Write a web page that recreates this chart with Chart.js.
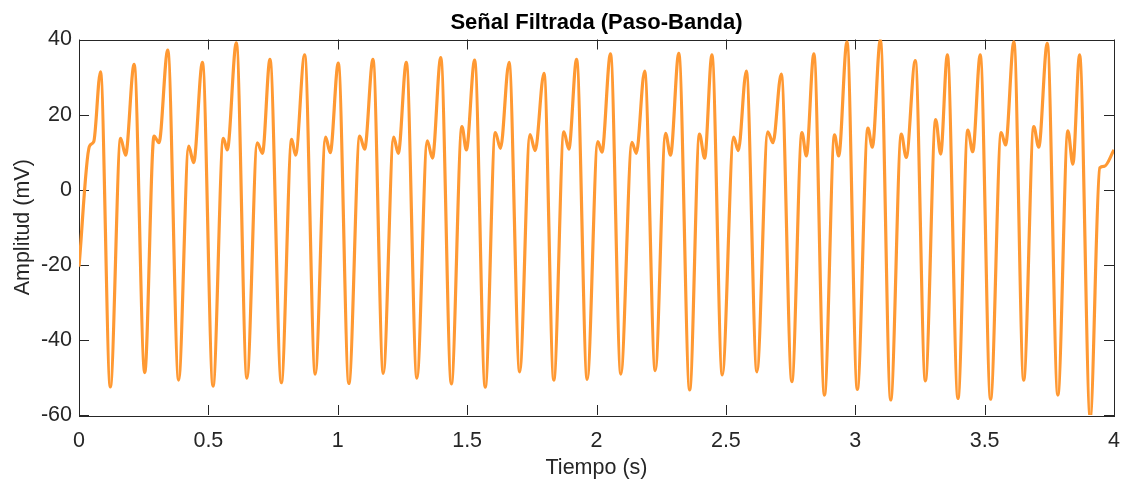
<!DOCTYPE html>
<html>
<head>
<meta charset="utf-8">
<script src="https://cdn.jsdelivr.net/npm/chart.js@4.4.1/dist/chart.umd.min.js"></script>
<style>
  html, body { margin: 0; padding: 0; background: #ffffff; }
  #wrap { width: 1124px; height: 482px; }
</style>
</head>
<body>
<div id="wrap"><canvas id="c" width="1124" height="482"></canvas></div>
<script>
// Band-pass filtered signal, described by its turning points (time in s, amplitude in mV)

// start-up transient
const inicioT = [0.000, 0.040, 0.057];
const inicioV = [-20.5, 11.5, 12.8];

// main peaks of each beat
const picoT = [0.083, 0.213, 0.343, 0.477, 0.608, 0.738, 0.872, 1.002, 1.136, 1.265,
               1.398, 1.529, 1.662, 1.797, 1.923, 2.054, 2.186, 2.318, 2.446, 2.579,
               2.714, 2.840, 2.968, 3.097, 3.232, 3.356, 3.483, 3.613, 3.742, 3.867];
const picoV = [31.4, 33.4, 37.2, 33.9, 39.1, 34.7, 35.9, 33.7, 34.7, 33.9,
               35.2, 34.5, 33.9, 31.0, 34.7, 36.2, 31.6, 36.3, 35.9, 31.6,
               30.8, 36.2, 39.4, 39.9, 34.4, 35.9, 35.9, 39.4, 39.0, 35.9];

// deep troughs after each peak
const valleT = [0.121, 0.254, 0.385, 0.518, 0.649, 0.782, 0.913, 1.043, 1.176, 1.306,
                1.439, 1.570, 1.703, 1.835, 1.964, 2.094, 2.227, 2.360, 2.486, 2.620,
                2.755, 2.881, 3.008, 3.137, 3.271, 3.397, 3.523, 3.651, 3.783, 3.908];
const valleV = [-52.5, -48.7, -50.7, -52.3, -50.2, -51.4, -49.1, -51.6, -48.9, -50.2,
                -51.7, -52.6, -48.5, -50.7, -50.5, -49.1, -48.2, -53.3, -49.3, -48.5,
                -51.1, -54.7, -53.2, -56.0, -50.9, -55.6, -55.8, -50.7, -54.7, -60.5];

// small shoulder peaks on the rising edge
const hombroT = [0.161, 0.290, 0.424, 0.558, 0.689, 0.822, 0.953, 1.085, 1.216, 1.346,
                 1.480, 1.609, 1.743, 1.874, 2.005, 2.137, 2.267, 2.398, 2.530, 2.662,
                 2.794, 2.920, 3.049, 3.178, 3.311, 3.435, 3.564, 3.690, 3.822];
const hombroV = [13.7, 14.3, 11.6, 13.7, 12.5, 13.4, 14.0, 14.3, 14.0, 13.0,
                 16.8, 15.2, 14.7, 15.4, 12.8, 12.6, 15.0, 14.8, 14.0, 15.4,
                 15.2, 14.6, 16.4, 14.8, 18.7, 15.9, 15.2, 16.8, 15.7];

// notches between shoulder and main peak
const muescaT = [0.180, 0.309, 0.443, 0.573, 0.709, 0.837, 0.971, 1.104, 1.234, 1.366,
                 1.497, 1.629, 1.763, 1.893, 2.021, 2.154, 2.286, 2.418, 2.548, 2.682,
                 2.811, 2.936, 3.066, 3.197, 3.330, 3.454, 3.581, 3.709, 3.841];
const muescaV = [9.2, 12.5, 7.2, 10.6, 9.7, 9.2, 9.9, 10.8, 9.7, 8.4,
                 10.6, 11.0, 10.4, 10.8, 10.0, 9.7, 9.2, 8.4, 10.4, 12.5,
                 9.0, 9.0, 11.3, 8.6, 9.5, 10.1, 11.9, 11.3, 6.8];

// tail of the record
const finT = [3.945, 3.962, 4.000];
const finV = [5.8, 6.2, 10.6];

// axis ticks
const xTicks = [0, 0.5, 1, 1.5, 2, 2.5, 3, 3.5, 4];
const yTicks = [-60, -40, -20, 0, 20, 40];

// merge all turning points into one time-ordered series
function pares(ts, vs) { return ts.map((t, i) => ({ x: t, y: vs[i] })); }
const puntos = [].concat(
  pares(inicioT, inicioV), pares(picoT, picoV), pares(valleT, valleV),
  pares(hombroT, hombroV), pares(muescaT, muescaV), pares(finT, finV)
).sort((a, b) => a.x - b.x);

const AXIS = '#262626';
const FONT = '"Liberation Sans", Arial, Helvetica, sans-serif';
const TXT = 21.5;

// box around the plot area with inward tick marks on all four sides
const cajaEjes = {
  id: 'cajaEjes',
  afterLayout(chart) {
    // center the title over the plot area rather than the whole canvas
    const tb = chart.titleBlock;
    if (tb) { tb.left = chart.chartArea.left; tb.right = chart.chartArea.right; }
  },
  beforeDatasetsDraw(chart) {
    const { ctx, chartArea: a, scales: { x, y } } = chart;
    const L = 10;
    ctx.save();
    ctx.strokeStyle = AXIS;
    ctx.lineWidth = 1;
    ctx.beginPath();
    xTicks.forEach(v => {
      const px = Math.round(x.getPixelForValue(v)) + 0.5;
      ctx.moveTo(px, a.bottom); ctx.lineTo(px, a.bottom - L);
      ctx.moveTo(px, a.top); ctx.lineTo(px, a.top + L);
    });
    yTicks.forEach(v => {
      const py = Math.round(y.getPixelForValue(v)) + 0.5;
      ctx.moveTo(a.left, py); ctx.lineTo(a.left + L, py);
      ctx.moveTo(a.right, py); ctx.lineTo(a.right - L, py);
    });
    ctx.stroke();
    ctx.strokeRect(Math.round(a.left) + 0.5, Math.round(a.top) + 0.5,
                   Math.round(a.right - a.left), Math.round(a.bottom - a.top));
    ctx.restore();
  }
};

new Chart(document.getElementById('c'), {
  type: 'line',
  data: {
    datasets: [{
      data: puntos,
      borderColor: '#FF9933',
      borderWidth: 3.2,
      pointRadius: 0,
      cubicInterpolationMode: 'monotone',
      fill: false
    }]
  },
  options: {
    responsive: false,
    animation: false,
    layout: { padding: { left: 0, right: 10, top: 0, bottom: 0 } },
    plugins: {
      legend: { display: false },
      tooltip: { enabled: false },
      title: {
        display: true,
        text: 'Señal Filtrada (Paso-Banda)',
        color: '#000000',
        font: { family: FONT, size: 22, weight: 'bold' },
        padding: { top: 10, bottom: 3.1 }
      }
    },
    scales: {
      x: {
        type: 'linear',
        min: 0, max: 4,
        afterFit(s) { s.height = 67; s.paddingLeft = 0; s.paddingRight = 0; },
        afterBuildTicks(s) { s.ticks = xTicks.map(v => ({ value: v })); },
        grid: { display: false, drawTicks: false },
        border: { display: false },
        ticks: {
          color: AXIS, padding: 13, maxRotation: 0,
          font: { family: FONT, size: TXT },
          callback: v => String(v)
        },
        title: {
          display: true, text: 'Tiempo (s)', color: AXIS,
          font: { family: FONT, size: TXT },
          padding: { top: 0, bottom: 1 }
        }
      },
      y: {
        type: 'linear',
        min: -60, max: 40,
        afterFit(s) { s.width = 79; s.paddingTop = 0; s.paddingBottom = 0; },
        afterBuildTicks(s) { s.ticks = yTicks.map(v => ({ value: v })); },
        grid: { display: false, drawTicks: false },
        border: { display: false },
        ticks: {
          color: AXIS, padding: 7,
          font: { family: FONT, size: TXT },
          callback: v => String(v)
        },
        title: {
          display: true, text: 'Amplitud (mV)', color: AXIS,
          font: { family: FONT, size: TXT },
          padding: { top: 10, bottom: 0 }
        }
      }
    }
  },
  plugins: [cajaEjes]
});
</script>
</body>
</html>
